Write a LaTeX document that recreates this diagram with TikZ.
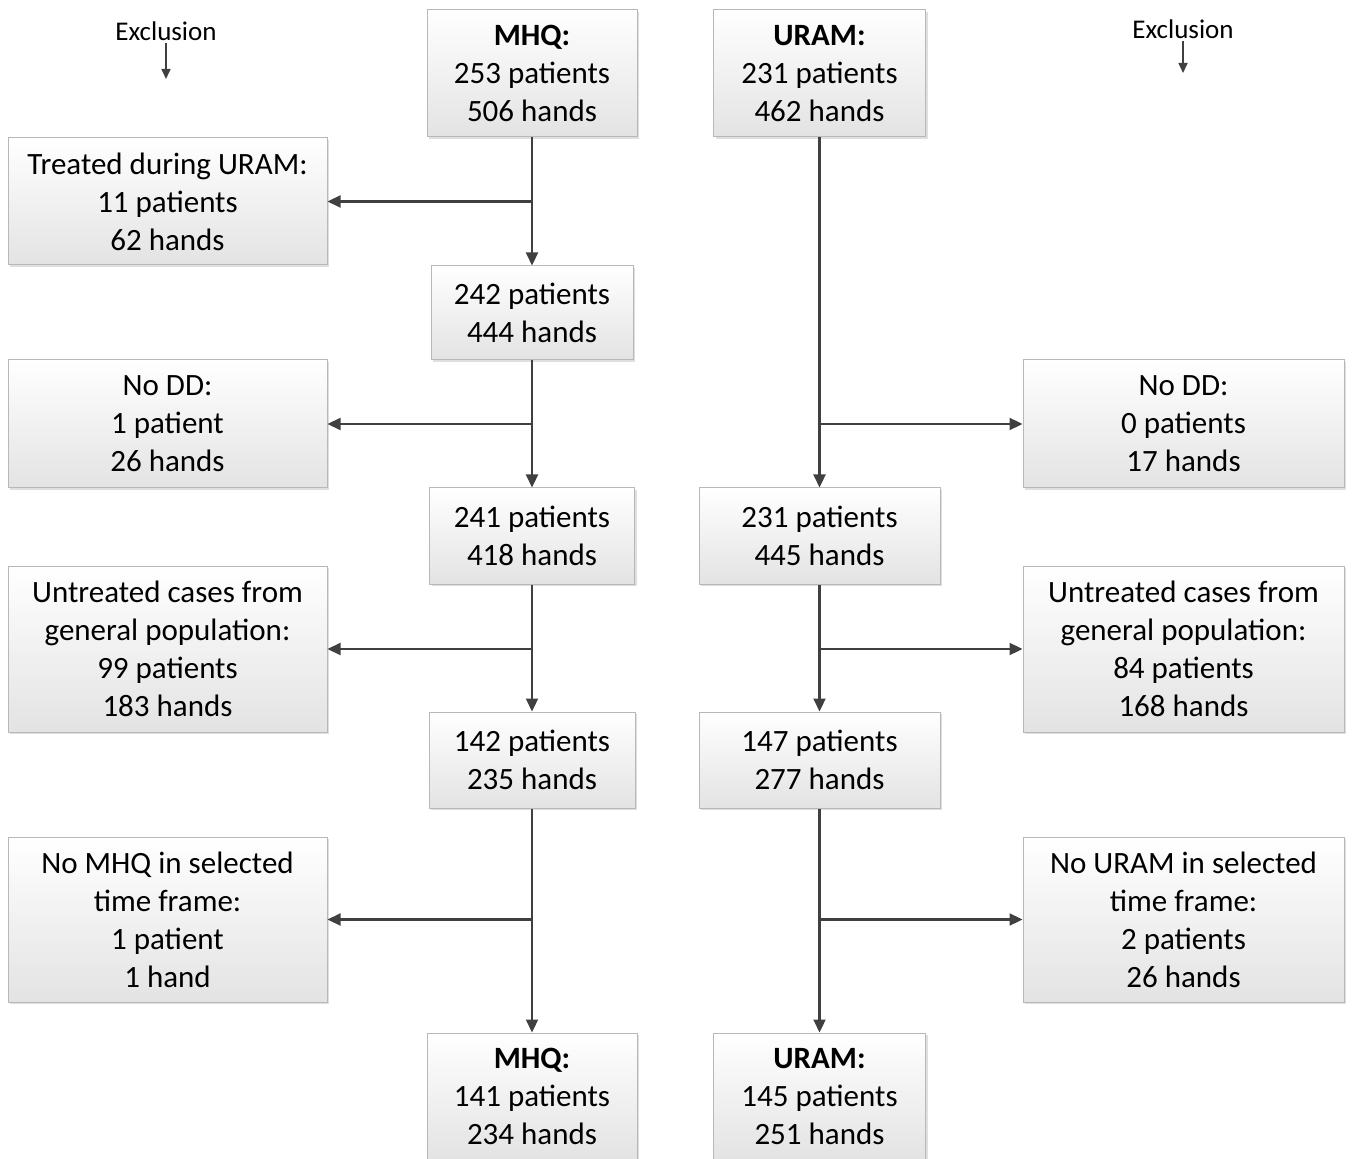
\documentclass[tikz,border=0pt]{standalone}
\usepackage{fontspec}
\setmainfont{Carlito}
\usetikzlibrary{arrows.meta,shadows}
\tikzset{
  flowbox/.style={draw=black!28, line width=0.5pt, top color=white,
    bottom color=black!11, align=center, inner sep=0pt,
    font=\fontsize{15.5}{19}\selectfont,
    drop shadow={opacity=0.25, shadow xshift=1pt, shadow yshift=-1pt}},
  flowarr/.style={draw=black!75, line width=1.1pt,
    -{Triangle[length=6.5pt,width=6pt]}},
  exclarr/.style={draw=black!75, line width=0.8pt,
    -{Triangle[length=5pt,width=4.5pt]}}
}
\begin{document}
\begin{tikzpicture}[x=0.5pt,y=-0.5pt]
			\useasboundingbox (0,0) rectangle (1352,1159);
			% boxes: name/x/y/width/height/text
			\foreach \nm/\cx/\cy/\bw/\bh/\txt in {
				mhqA/532/73.5/210/127/{\textbf{MHQ:}\\253 patients\\506 hands},
				uramA/819.5/73.5/212/127/{\textbf{URAM:}\\231 patients\\462 hands},
				exA/167.5/201.5/319/127/{Treated during URAM:\\11 patients\\62 hands},
				mhqB/532/313/202/94/{242 patients\\444 hands},
				exB/167.5/424/319/128/{No DD:\\1 patient\\26 hands},
				exBr/1183.5/424/321/128/{No DD:\\0 patients\\17 hands},
				mhqC/532/536/205/96/{241 patients\\418 hands},
				uramC/819.5/536/241/96/{231 patients\\445 hands},
				exC/167.5/649/319/166/{Untreated cases from\\general population:\\99 patients\\183 hands},
				exCr/1183.5/649/321/166/{Untreated cases from\\general population:\\84 patients\\168 hands},
				mhqD/532/760/206/96/{142 patients\\235 hands},
				uramD/819.5/760/241/96/{147 patients\\277 hands},
				exD/167.5/919.5/319/165/{No MHQ in selected\\time frame:\\1 patient\\1 hand},
				exDr/1183.5/919.5/321/165/{No URAM in selected\\time frame:\\2 patients\\26 hands},
				mhqE/532/1096.5/210/127/{\textbf{MHQ:}\\141 patients\\234 hands},
				uramE/819.5/1096.5/212/127/{\textbf{URAM:}\\145 patients\\251 hands}}
			\path (\cx,\cy) node[flowbox, minimum width=\bw*0.5pt,
				minimum height=\bh*0.5pt] (\nm) {\txt};
			% exclusion labels
			\path (166,31) node[font=\fontsize{13.5}{16}\selectfont,
				inner sep=1pt] (exclL) {Exclusion}
				(1183,29) node[font=\fontsize{13.5}{16}\selectfont,
				inner sep=1pt] (exclR) {Exclusion};
			\coordinate (exclLend) at (166,79);
			\coordinate (exclRend) at (1183,73);
			\draw[exclarr] (exclL) -- (exclLend);
			\draw[exclarr] (exclR) -- (exclRend);
			% MHQ column
			\draw[flowarr] (mhqA) -- (mhqB);
			\draw[flowarr] (mhqA.south |- exA.east) -- (exA.east);
			\draw[flowarr] (mhqB) -- (mhqC);
			\draw[flowarr] (mhqB.south |- exB.east) -- (exB.east);
			\draw[flowarr] (mhqC) -- (mhqD);
			\draw[flowarr] (mhqC.south |- exC.east) -- (exC.east);
			\draw[flowarr] (mhqD) -- (mhqE);
			\draw[flowarr] (mhqD.south |- exD.east) -- (exD.east);
			% URAM column
			\draw[flowarr] (uramA) -- (uramC);
			\draw[flowarr] (uramA.south |- exBr.west) -- (exBr.west);
			\draw[flowarr] (uramC) -- (uramD);
			\draw[flowarr] (uramC.south |- exCr.west) -- (exCr.west);
			\draw[flowarr] (uramD) -- (uramE);
			\draw[flowarr] (uramD.south |- exDr.west) -- (exDr.west);
\end{tikzpicture}
\end{document}
